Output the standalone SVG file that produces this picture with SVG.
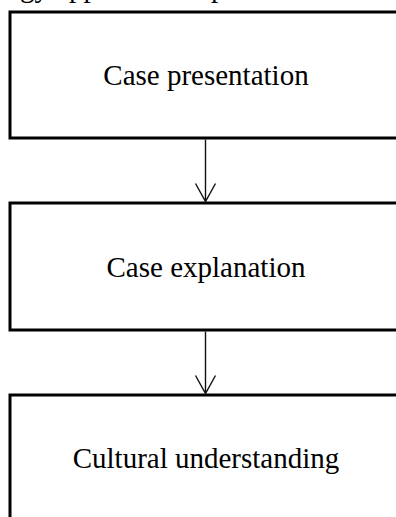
<svg xmlns="http://www.w3.org/2000/svg" width="396" height="517" viewBox="0 0 396 517">
<style>
.box{fill:#fff;stroke:#000;stroke-width:3}
.lbl{font-family:"Liberation Serif","Times New Roman",serif;font-size:29px;fill:#000;text-anchor:middle}
.top{font-family:"Liberation Serif","Times New Roman",serif;font-size:29px;fill:#000}
.conn{stroke:#111;stroke-width:1.4;fill:none}
</style>
<rect width="396" height="517" fill="#fff"/>
<text class="top" x="20" y="-3">gy approach<tspan x="211">p</tspan></text>
<g id="node1">
<rect class="box" x="10" y="12" width="400" height="126"/>
<text class="lbl" x="206" y="85">Case presentation</text>
</g>
<g id="node2">
<rect class="box" x="10" y="203" width="400" height="127"/>
<text class="lbl" x="206" y="277">Case explanation</text>
</g>
<g id="node3">
<rect class="box" x="10" y="395" width="400" height="140"/>
<text class="lbl" x="206" y="468">Cultural understanding</text>
</g>
<g id="connectors">
<path class="conn" d="M205.5 139.5V201.5M195.5 183.5L205.5 201.5L215.5 183.5"/>
<path class="conn" d="M205.5 331.5V393.5M195.5 375.5L205.5 393.5L215.5 375.5"/>
</g>
</svg>
